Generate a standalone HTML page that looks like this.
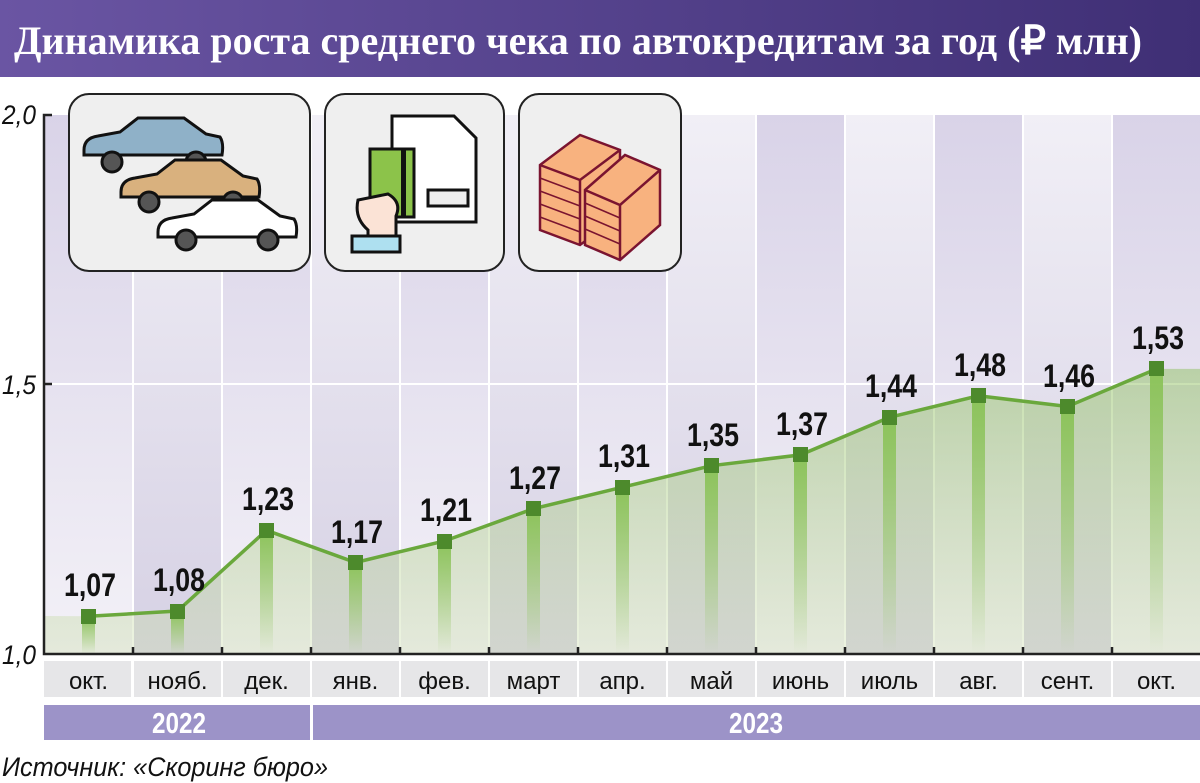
<!DOCTYPE html>
<html><head><meta charset="utf-8"><style>
html,body{margin:0;padding:0;background:#fff;}
svg{display:block;}
</style></head><body>
<svg width="1200" height="783" viewBox="0 0 1200 783" xmlns="http://www.w3.org/2000/svg">
<defs>
<linearGradient id="tb" x1="0" y1="0" x2="1" y2="0"><stop offset="0" stop-color="#6a55a3"/><stop offset="1" stop-color="#3f2f75"/></linearGradient>
<linearGradient id="cA" x1="0" y1="0" x2="0" y2="1"><stop offset="0" stop-color="#d9d3e8"/><stop offset="1" stop-color="#f3f1f7"/></linearGradient>
<linearGradient id="cB" x1="0" y1="0" x2="0" y2="1"><stop offset="0" stop-color="#f1eff6"/><stop offset="1" stop-color="#d6d1e4"/></linearGradient>
<linearGradient id="ga" x1="0" y1="0" x2="0" y2="1"><stop offset="0" stop-color="#8fc060" stop-opacity="0.5"/><stop offset="1" stop-color="#c9dca8" stop-opacity="0.35"/></linearGradient>
<linearGradient id="gb" x1="0" y1="0" x2="0" y2="1"><stop offset="0" stop-color="#8cc35a"/><stop offset="1" stop-color="#8cc35a" stop-opacity="0"/></linearGradient>
</defs>
<rect x="0" y="0" width="1200" height="77" fill="url(#tb)"/>
<text x="14" y="54" fill="#fff" font-family="Liberation Serif, serif" font-weight="bold" font-size="40" textLength="1128" lengthAdjust="spacingAndGlyphs">Динамика роста среднего чека по автокредитам за год (₽ млн)</text>

<g>
<rect x="44" y="115" width="89" height="539" fill="url(#cA)"/>
<rect x="133" y="115" width="89" height="539" fill="url(#cB)"/>
<rect x="222" y="115" width="89" height="539" fill="url(#cA)"/>
<rect x="311" y="115" width="89" height="539" fill="url(#cB)"/>
<rect x="400" y="115" width="89" height="539" fill="url(#cA)"/>
<rect x="489" y="115" width="89" height="539" fill="url(#cB)"/>
<rect x="578" y="115" width="89" height="539" fill="url(#cA)"/>
<rect x="667" y="115" width="89" height="539" fill="url(#cB)"/>
<rect x="756" y="115" width="89" height="539" fill="url(#cA)"/>
<rect x="845" y="115" width="89" height="539" fill="url(#cB)"/>
<rect x="934" y="115" width="89" height="539" fill="url(#cA)"/>
<rect x="1023" y="115" width="89" height="539" fill="url(#cB)"/>
<rect x="1112" y="115" width="88" height="539" fill="url(#cA)"/>
</g>
<g stroke="#ffffff" stroke-width="2">
<line x1="133" y1="115" x2="133" y2="654"/><line x1="222" y1="115" x2="222" y2="654"/><line x1="311" y1="115" x2="311" y2="654"/><line x1="400" y1="115" x2="400" y2="654"/><line x1="489" y1="115" x2="489" y2="654"/><line x1="578" y1="115" x2="578" y2="654"/><line x1="667" y1="115" x2="667" y2="654"/><line x1="756" y1="115" x2="756" y2="654"/><line x1="845" y1="115" x2="845" y2="654"/><line x1="934" y1="115" x2="934" y2="654"/><line x1="1023" y1="115" x2="1023" y2="654"/><line x1="1112" y1="115" x2="1112" y2="654"/>
<line x1="50" y1="384" x2="1200" y2="384"/>
</g>

<polygon fill="url(#ga)" points="44,616 88.5,616.3 177.5,611 266.5,530.3 355.5,562.5 444.5,541 533.5,508.7 622.5,487.2 711.5,465.7 800.5,454.9 889.5,417.3 978.5,395.8 1067.5,406.5 1156.5,368.9 1200,368.9 1200,654 44,654"/>
<g fill="url(#gb)">
<rect x="82" y="616" width="13" height="38"/><rect x="171" y="611" width="13" height="43"/><rect x="260" y="530" width="13" height="124"/><rect x="349" y="562" width="13" height="92"/><rect x="438" y="541" width="13" height="113"/><rect x="527" y="509" width="13" height="145"/><rect x="616" y="487" width="13" height="167"/><rect x="705" y="466" width="13" height="188"/><rect x="794" y="455" width="13" height="199"/><rect x="883" y="417" width="13" height="237"/><rect x="972" y="396" width="13" height="258"/><rect x="1061" y="406" width="13" height="248"/><rect x="1150" y="369" width="13" height="285"/>
</g>
<polyline fill="none" stroke="#6aa83c" stroke-width="3.5" points="88.5,616.3 177.5,611 266.5,530.3 355.5,562.5 444.5,541 533.5,508.7 622.5,487.2 711.5,465.7 800.5,454.9 889.5,417.3 978.5,395.8 1067.5,406.5 1156.5,368.9"/>
<g fill="#4d8a2c">
<rect x="81" y="609" width="15" height="15"/><rect x="170" y="604" width="15" height="15"/><rect x="259" y="523" width="15" height="15"/><rect x="348" y="555" width="15" height="15"/><rect x="437" y="534" width="15" height="15"/><rect x="526" y="501" width="15" height="15"/><rect x="615" y="480" width="15" height="15"/><rect x="704" y="458" width="15" height="15"/><rect x="793" y="447" width="15" height="15"/><rect x="882" y="410" width="15" height="15"/><rect x="971" y="388" width="15" height="15"/><rect x="1060" y="399" width="15" height="15"/><rect x="1149" y="361" width="15" height="15"/>
</g>
<g font-family="Liberation Sans, sans-serif" font-weight="bold" font-size="32" fill="#111" lengthAdjust="spacingAndGlyphs">
<text x="64" y="596" textLength="52" lengthAdjust="spacingAndGlyphs">1,07</text>
<text x="153" y="591" textLength="52" lengthAdjust="spacingAndGlyphs">1,08</text>
<text x="242" y="510" textLength="52" lengthAdjust="spacingAndGlyphs">1,23</text>
<text x="331" y="543" textLength="52" lengthAdjust="spacingAndGlyphs">1,17</text>
<text x="420" y="521" textLength="52" lengthAdjust="spacingAndGlyphs">1,21</text>
<text x="509" y="489" textLength="52" lengthAdjust="spacingAndGlyphs">1,27</text>
<text x="598" y="467" textLength="52" lengthAdjust="spacingAndGlyphs">1,31</text>
<text x="687" y="446" textLength="52" lengthAdjust="spacingAndGlyphs">1,35</text>
<text x="776" y="435" textLength="52" lengthAdjust="spacingAndGlyphs">1,37</text>
<text x="865" y="397" textLength="52" lengthAdjust="spacingAndGlyphs">1,44</text>
<text x="954" y="376" textLength="52" lengthAdjust="spacingAndGlyphs">1,48</text>
<text x="1043" y="387" textLength="52" lengthAdjust="spacingAndGlyphs">1,46</text>
<text x="1132" y="349" textLength="52" lengthAdjust="spacingAndGlyphs">1,53</text>
</g>

<g stroke="#222" stroke-width="2.5" fill="none">
<polyline points="52,115 44,115 44,654 1200,654"/>
<line x1="44" y1="384" x2="52" y2="384"/>
<line x1="133" y1="647" x2="133" y2="654"/><line x1="222" y1="647" x2="222" y2="654"/><line x1="311" y1="647" x2="311" y2="654"/><line x1="400" y1="647" x2="400" y2="654"/><line x1="489" y1="647" x2="489" y2="654"/><line x1="578" y1="647" x2="578" y2="654"/><line x1="667" y1="647" x2="667" y2="654"/><line x1="756" y1="647" x2="756" y2="654"/><line x1="845" y1="647" x2="845" y2="654"/><line x1="934" y1="647" x2="934" y2="654"/><line x1="1023" y1="647" x2="1023" y2="654"/><line x1="1112" y1="647" x2="1112" y2="654"/>
</g>
<g font-family="Liberation Sans, sans-serif" font-style="italic" font-size="27" fill="#111">
<text x="2" y="124" textLength="34" lengthAdjust="spacingAndGlyphs">2,0</text>
<text x="2" y="394" textLength="34" lengthAdjust="spacingAndGlyphs">1,5</text>
<text x="2" y="664" textLength="34" lengthAdjust="spacingAndGlyphs">1,0</text>
</g>

<g fill="#e6e6e8">
<rect x="44" y="661" width="87" height="36"/><rect x="134" y="661" width="87" height="36"/><rect x="223" y="661" width="87" height="36"/><rect x="312" y="661" width="87" height="36"/><rect x="401" y="661" width="87" height="36"/><rect x="490" y="661" width="87" height="36"/><rect x="579" y="661" width="87" height="36"/><rect x="668" y="661" width="87" height="36"/><rect x="757" y="661" width="87" height="36"/><rect x="846" y="661" width="87" height="36"/><rect x="935" y="661" width="87" height="36"/><rect x="1024" y="661" width="87" height="36"/><rect x="1113" y="661" width="87" height="36"/>
</g>
<g font-family="Liberation Sans, sans-serif" font-size="24" fill="#111" text-anchor="middle">
<text x="88.5" y="689">окт.</text><text x="177.5" y="689">нояб.</text><text x="266.5" y="689">дек.</text><text x="355.5" y="689">янв.</text><text x="444.5" y="689">фев.</text><text x="533.5" y="689">март</text><text x="622.5" y="689">апр.</text><text x="711.5" y="689">май</text><text x="800.5" y="689">июнь</text><text x="889.5" y="689">июль</text><text x="978.5" y="689">авг.</text><text x="1067.5" y="689">сент.</text><text x="1156.5" y="689">окт.</text>
</g>
<rect x="44" y="705" width="266" height="35" fill="#9c93c8"/>
<rect x="313" y="705" width="887" height="35" fill="#9c93c8"/>
<g font-family="Liberation Sans, sans-serif" font-weight="bold" font-size="29" fill="#fff">
<text x="152" y="733" textLength="54" lengthAdjust="spacingAndGlyphs">2022</text>
<text x="729" y="733" textLength="54" lengthAdjust="spacingAndGlyphs">2023</text>
</g>
<text x="2" y="776" font-family="Liberation Sans, sans-serif" font-style="italic" font-size="27" fill="#111" textLength="326" lengthAdjust="spacingAndGlyphs">Источник: «Скоринг бюро»</text>

<g stroke="#222" stroke-width="2" fill="#efefef">
<rect x="69" y="94" width="241" height="177" rx="20"/>
<rect x="325" y="94" width="179" height="177" rx="20"/>
<rect x="519" y="94" width="162" height="177" rx="20"/>
</g>
<g stroke="#111" stroke-width="3">
<path d="M84,150 q0,-12 14,-14 l22,-4 l18,-14 h46 l22,16 l14,3 q4,6 2,18 h-138 z" fill="#8fb1c8"/>
<circle cx="112" cy="162" r="10" fill="#555"/><circle cx="196" cy="162" r="10" fill="#555"/>
<path d="M121,192 q0,-12 14,-14 l22,-4 l18,-14 h46 l22,16 l14,3 q4,6 2,18 h-138 z" fill="#d9b17e"/>
<circle cx="149" cy="202" r="10" fill="#555"/><circle cx="233" cy="202" r="10" fill="#555"/>
<path d="M158,232 q0,-12 14,-14 l22,-4 l18,-14 h46 l22,16 l14,3 q4,6 2,18 h-138 z" fill="#fff"/>
<circle cx="186" cy="240" r="10" fill="#555"/><circle cx="268" cy="240" r="10" fill="#555"/>
</g>
<g stroke="#111" stroke-width="3">
<path d="M392,116 h62 l22,22 v84 h-84 z" fill="#fff"/>
<rect x="370" y="149" width="44" height="68" fill="#8cc34a"/>
<rect x="401" y="149" width="5" height="68" fill="#111" stroke="none"/>
<path d="M358,200 q-4,18 10,30 v6 h28 v-20 q6,-14 -8,-22 z" fill="#fbe3d6"/>
<rect x="352" y="236" width="48" height="16" fill="#aee0f0"/>
<rect x="428" y="190" width="40" height="16" fill="#eee"/>
</g>
<g stroke="#7a1430" stroke-width="2.5" fill="#f8b27f">
<path d="M540,165 l40,-30 l40,15 v65 l-40,30 l-40,-15 z"/>
<path d="M585,190 l40,-35 l35,15 v55 l-40,35 l-35,-15 z"/>
<path d="M540,165 l40,15 l40,-30 M580,180 v65" fill="none"/>
<path d="M585,190 l35,15 l40,-35 M620,205 v55" fill="none"/>
<path d="M540,178 l40,15 M540,191 l40,15 M540,204 l40,15 M540,217 l40,15 M585,203 l35,15 M585,216 l35,15 M585,229 l35,15" fill="none" stroke-width="1.5"/>
</g>
</svg>
</body></html>
